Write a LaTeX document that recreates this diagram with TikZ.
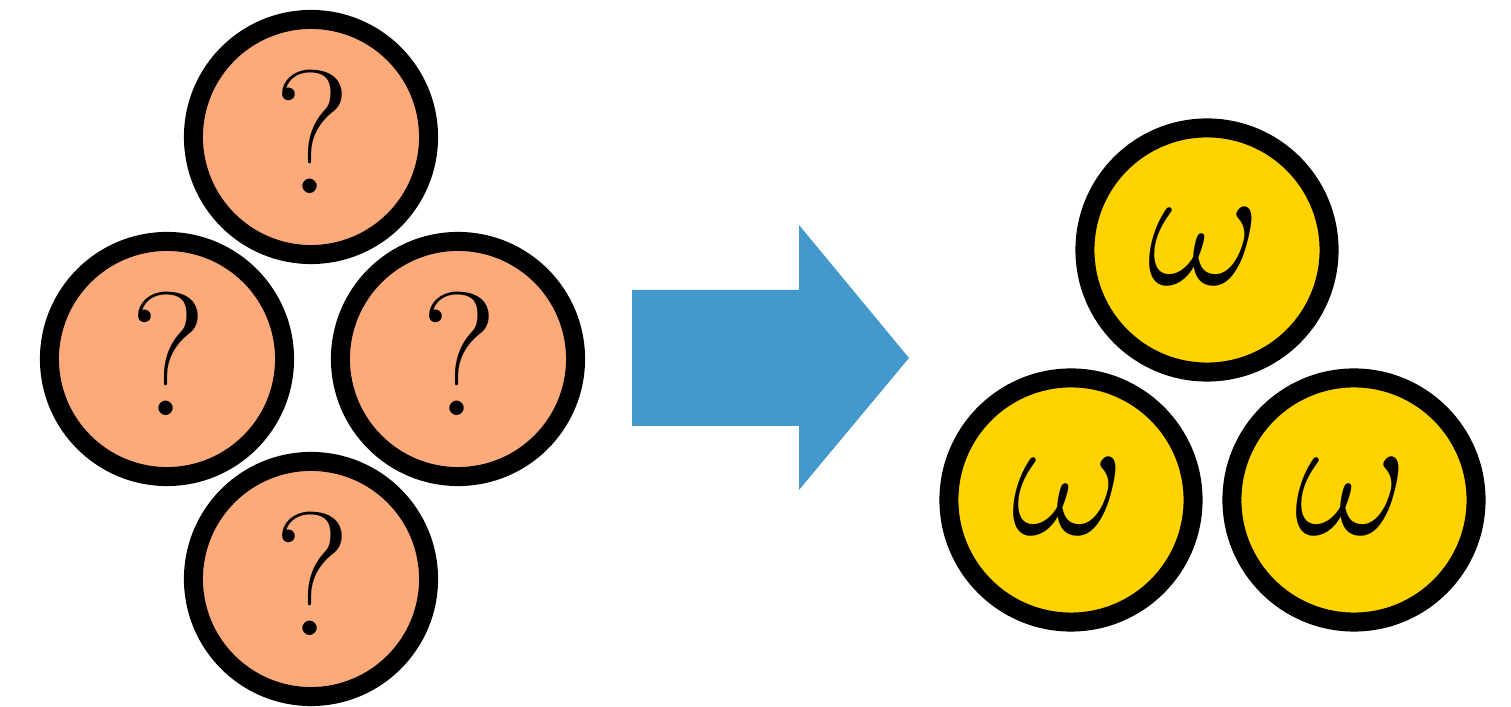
\RequirePackage{fix-cm}
\documentclass[tikz,border=0pt]{standalone}
\usepackage{fontspec}
\definecolor{qorange}{HTML}{FCAA7A}
\definecolor{wyellow}{HTML}{FFD300}
\definecolor{arrowblue}{HTML}{4399CB}
\newcommand{\qmark}{{\fontsize{50}{60}\selectfont ?}}
\newcommand{\wmark}{{\fontsize{50}{60}\selectfont $\omega$}}
\tikzset{
  qball/.style={circle, draw=black, fill=qorange, line width=0.19cm, inner sep=0pt, minimum size=2.35cm},
  wball/.style={circle, draw=black, fill=wyellow, line width=0.19cm, inner sep=0pt, minimum size=2.44cm},
  balltext/.style={anchor=base, inner sep=0pt},
}
\begin{document}
\begin{tikzpicture}[x=0.01cm, y=-0.01cm]
\useasboundingbox (0,0) rectangle (1511,707);
% question balls
\node[qball] (qtop) at (311,137) {};
\node[qball] (qleft) at (167,359) {};
\node[qball] (qright) at (458,359) {};
\node[qball] (qbot) at (311,579) {};
\node[balltext] (qtopt) at (313,194) {\qmark};
\node[balltext] (qleftt) at (169,416) {\qmark};
\node[balltext] (qrightt) at (460,416) {\qmark};
\node[balltext] (qbott) at (313,636) {\qmark};
% arrow
\fill[arrowblue] (632,290) -- (799,290) -- (799,225) -- (909,358) -- (799,490) -- (799,426) -- (632,426) -- cycle;
% omega balls
\node[wball] (wtop) at (1207,250) {};
\node[wball] (wleft) at (1071,500) {};
\node[wball] (wright) at (1354,500) {};
\node[balltext] (wtopt) at (1204,285) {\wmark};
\node[balltext] (wleftt) at (1068,535) {\wmark};
\node[balltext] (wrightt) at (1351,535) {\wmark};
\end{tikzpicture}
\end{document}
